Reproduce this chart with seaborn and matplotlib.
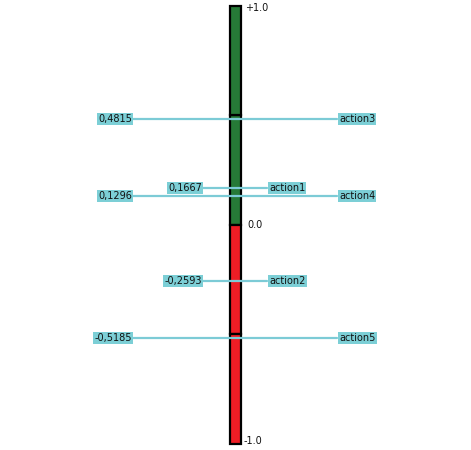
import matplotlib
matplotlib.use("Agg")
import matplotlib.pyplot as plt
import seaborn as sns
import pandas as pd

# ---- data ----
actions = ["action1", "action2", "action3", "action4", "action5"]
values = [0.1667, -0.2593, 0.4815, 0.1296, -0.5185]
value_labels = ["0,1667", "-0,2593", "0,4815", "0,1296", "-0,5185"]
segments_bottom = [0.0, 0.5, 0.0, -0.5]
segments_height = [0.5, 0.5, -0.5, -0.5]
segment_colors = ["#267a37", "#267a37", "#ee1d25", "#ee1d25"]
scale_ticks = [1.0, 0.0, -1.0]
scale_labels = ["+1.0", "0.0", "-1.0"]

# ---- style (not data) ----
long_line = [False, False, True, True, True]
LINE_C = "#7ccbd6"
BOX_C = "#7ccfd6"

sns.set_theme(style="white")
plt.rcParams["font.family"] = ["DejaVu Sans"]

W, H = 471, 450
fig = plt.figure(figsize=(W / 100, H / 100), dpi=100)
ax = fig.add_axes([0, 0, 1, 1])
ax.set_xlim(0, W)
zero_px, unit_px = 224.5, 219.0
ax.set_ylim((zero_px - H) / unit_px, zero_px / unit_px)
ax.axis("off")

# bar segments
seg = pd.DataFrame({"b": segments_bottom, "h": segments_height, "c": segment_colors})
for _, r in seg.iterrows():
    ax.bar(235, r["h"], bottom=r["b"], width=11, color=r["c"],
           edgecolor="black", linewidth=1.6, zorder=2)

# action lines + labels
df = pd.DataFrame({"action": actions, "value": values, "lab": value_labels, "long": long_line})
for _, r in df.iterrows():
    if r["long"]:
        x0, x1 = 133, 337
    else:
        x0, x1 = 203, 267
    sns.lineplot(x=[x0, x1], y=[r["value"], r["value"]], ax=ax, color=LINE_C,
                 linewidth=1.6, zorder=3)
    bb = dict(boxstyle="square,pad=0.12", facecolor=BOX_C, edgecolor="none")
    ax.text(x0 - 1, r["value"], r["lab"], ha="right", va="center", fontsize=7,
            color="#111111", bbox=bb, zorder=4)
    ax.text(x1 + 2, r["value"], r["action"], ha="left", va="center", fontsize=7,
            color="#111111", bbox=bb, zorder=4)

# scale labels
xs = [245, 247, 244]
for x, v, t in zip(xs, scale_ticks, scale_labels):
    yv = v - 0.01 if v > 0.5 else (v + 0.01 if v < -0.5 else v)
    ax.text(x, yv, t, ha="left", va="center", fontsize=7, color="#111111")

fig.savefig("out.png", dpi=100, facecolor="white")
